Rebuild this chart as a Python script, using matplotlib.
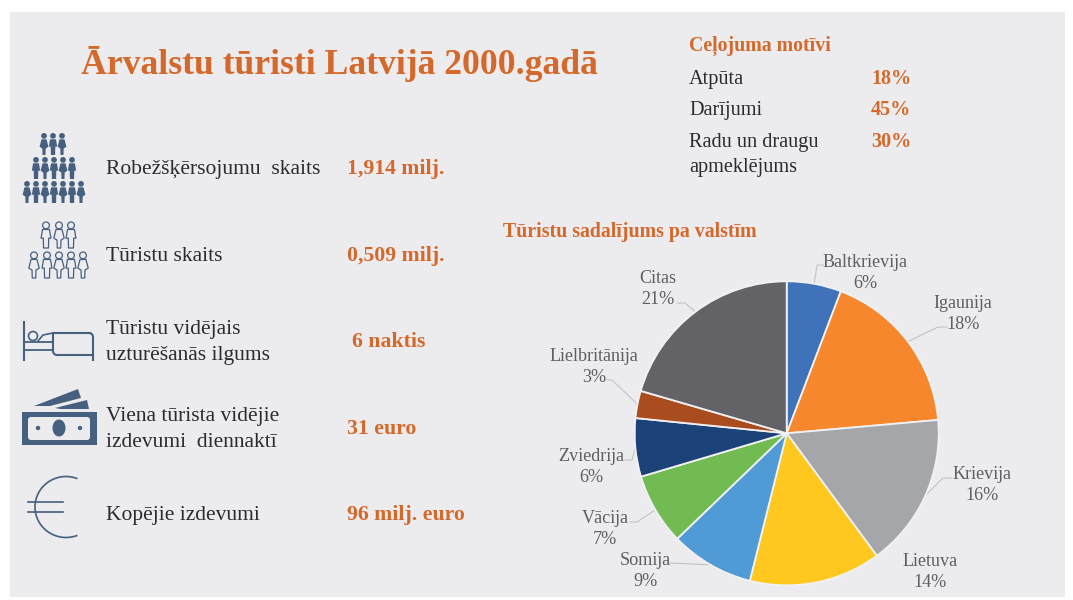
# turisti.py
# infographic: foreign tourists in Latvia, 2000

import numpy as np
import matplotlib
matplotlib.use('Agg')
import matplotlib.pyplot as plt
from matplotlib.patches import Circle, Ellipse, FancyBboxPatch, Polygon, Rectangle, Arc

# D A T A  ---------------------------------------------------------------------
countries = ['Baltkrievija', 'Igaunija', 'Krievija', 'Lietuva', 'Somija',
             'Vācija', 'Zviedrija', 'Lielbritānija', 'Citas']
share_labels = ['6%', '18%', '16%', '14%', '9%', '7%', '6%', '3%', '21%']
# slice sizes, the printed labels are rounded
shares = [5.8, 17.8, 16.3, 14.0, 8.9, 7.6, 6.2, 2.9, 20.5]
pie_colors = ['#3f72b8', '#f6872c', '#a5a6a9', '#fec81f', '#509bd5',
              '#72bb53', '#1b4279', '#a94c1e', '#636266']

stat_labels = ['Robežšķērsojumu  skaits', 'Tūristu skaits',
               'Tūristu vidējais\nuzturēšanās ilgums',
               'Viena tūrista vidējie\nizdevumi  diennaktī', 'Kopējie izdevumi']
stat_values = ['1,914 milj.', '0,509 milj.', '6 naktis', '31 euro', '96 milj. euro']

motive_labels = ['Atpūta', 'Darījumi', 'Radu un draugu\napmeklējums']
motive_values = ['18%', '45%', '30%']

# P A R A M E T E R S  ---------------------------------------------------------
W, H = 1073, 600
ORANGE = '#d4692b'
DARK = '#2b2b30'
GREY = '#5f5f62'
ICON = '#46607f'
BG = '#ecebee'
SERIF = 'Liberation Serif'
CX, CY, R = 786.7, 433.3, 152

stat_y = [167, 254, 340, 427, 513]
stat_x = [347, 347, 352, 347, 347]
motive_text_y = [77, 108, 152.5]
motive_pct_y = [77, 108, 140]

label_pos = [(865, 271), (963, 312), (982, 483), (930, 570), (645, 569),
             (605, 527), (591, 465), (594, 365), (658, 287)]
leader_pts = [((823, 265), (817, 265)), ((947, 327), (938, 327)), ((952, 478), (943, 478)),
              None, ((670, 563), (670, 563)), ((630, 522), (637, 522)),
              ((625, 460), (632, 460)), ((607, 380), (612, 380)), ((677, 303), (685, 303))]

fig = plt.figure(figsize=(W / 100, H / 100), dpi=100, facecolor='white')
ax = fig.add_axes([0, 0, 1, 1])
ax.set_xlim(0, W)
ax.set_ylim(H, 0)
ax.axis('off')
ax.add_patch(Rectangle((10, 12), 1055, 585, fc=BG, ec='none'))


# y is the middle of the block, each line gets its own baseline
def txt(x, y, s, size=15.5, color=DARK, weight='normal', ha='left', gap=26):
    lines = s.split('\n')
    y0 = y - gap * (len(lines) - 1) / 2
    for i, line in enumerate(lines):
        ax.text(x, y0 + i * gap + 0.33 * size * 100 / 72, line, fontsize=size, color=color,
                fontweight=weight, ha=ha, va='baseline', family=SERIF)


# person icon, top at y, height h
def person(x, y, h, filled=True, skirt=False):
    head = h * 0.13
    lw = 0 if filled else 0.9
    fc = ICON if filled else 'none'
    ax.add_patch(Circle((x, y + head), head, fc=fc, ec=ICON, lw=lw))
    w = h * 0.19
    top, mid, bot = y + 2.2 * head, y + h * 0.62, y + h
    if skirt:
        pts = [(x - w * 0.6, top), (x + w * 0.6, top), (x + w * 1.05, mid), (x + w * 0.4, mid + 2),
               (x + w * 0.35, bot), (x - w * 0.35, bot), (x - w * 0.4, mid + 2), (x - w * 1.05, mid)]
    else:
        pts = [(x - w * 0.7, top), (x + w * 0.7, top), (x + w, mid), (x + w * 0.55, mid),
               (x + w * 0.5, bot), (x - w * 0.5, bot), (x - w * 0.55, mid), (x - w, mid)]
    ax.add_patch(Polygon(pts, closed=True, fc=fc, ec=ICON, lw=lw, joinstyle='round'))


# icons
for i, x in enumerate([44, 53, 62]):
    person(x, 133, 22, True, i % 2 == 0)
for i, x in enumerate([36, 45, 54, 63, 72]):
    person(x, 157, 22, True, i % 2 == 1)
for i, x in enumerate([27, 36, 45, 54, 63, 72, 81]):
    person(x, 181, 22, True, i % 2 == 0)
for i, x in enumerate([46, 59, 71]):
    person(x, 222, 26, False, i == 1)
for i, x in enumerate([34, 47, 59, 71, 83]):
    person(x, 252, 26, False, i % 2 == 0)

# bed
ax.plot([24, 24], [322, 360], color=ICON, lw=1.5)
ax.add_patch(Circle((33, 336), 4.5, fc='none', ec=ICON, lw=1.2))
ax.plot([93, 93], [338, 360], color=ICON, lw=1.5)
ax.plot([53, 90], [333, 333], color=ICON, lw=1.5)
ax.add_patch(Arc((89, 337), 8, 8, theta1=270, theta2=360, color=ICON, lw=1.5))
ax.plot([53, 53], [333, 351], color=ICON, lw=1.5)
ax.add_patch(Arc((57, 351), 8, 8, theta1=90, theta2=180, color=ICON, lw=1.5))
ax.plot([57, 93], [355, 355], color=ICON, lw=1.5)
ax.plot([24, 53], [342, 342], color=ICON, lw=1.3)
ax.plot([24, 53], [350, 350], color=ICON, lw=1.3)
ax.plot([38, 43, 53], [341, 335, 333], color=ICON, lw=1.2)

# money
ax.add_patch(Rectangle((22, 412), 75, 33, fc=ICON, ec='none'))
ax.add_patch(FancyBboxPatch((28, 417), 62, 23, boxstyle='round,pad=0,rounding_size=3',
                            fc=BG, ec='none'))
ax.add_patch(Ellipse((59, 428), 13, 17, fc=ICON, ec='none'))
ax.add_patch(Circle((38, 428), 2.2, fc=ICON, ec='none'))
ax.add_patch(Circle((80, 428), 2.2, fc=ICON, ec='none'))
ax.add_patch(Polygon([(34, 406), (78, 389), (81, 398), (50, 406)], fc=ICON, ec='none'))
ax.add_patch(Polygon([(55, 408), (87, 400), (89, 409), (60, 409)], fc=ICON, ec='none'))

# euro
ax.add_patch(Arc((66, 507), 62, 61, theta1=68, theta2=292, color=ICON, lw=1.2))
ax.plot([28, 63], [502, 502], color=ICON, lw=1.2)
ax.plot([28, 63], [512, 512], color=ICON, lw=1.2)

# text
txt(81, 62, 'Ārvalstu tūristi Latvijā 2000.gadā', size=25.7, color=ORANGE, weight='bold')
for y, x, lab, val in zip(stat_y, stat_x, stat_labels, stat_values):
    txt(106, y, lab)
    txt(x, y, val, size=15.7, color=ORANGE, weight='bold')

txt(689, 44, 'Ceļojuma motīvi', size=14.3, color=ORANGE, weight='bold')
for ty, py, lab, val in zip(motive_text_y, motive_pct_y, motive_labels, motive_values):
    txt(689, ty, lab, size=14.6, gap=25)
    txt(871, py, val, size=14.5, color=ORANGE, weight='bold')
txt(503, 230, 'Tūristu sadalījums pa valstīm', size=14.35, color=ORANGE, weight='bold')

# pie
pie_ax = fig.add_axes([(CX - R) / W, 1 - (CY + R) / H, 2 * R / W, 2 * R / H])
wedges, _ = pie_ax.pie(shares, colors=pie_colors, startangle=90, counterclock=False, radius=1,
                       normalize=True, wedgeprops={'edgecolor': '#f2f1f3', 'linewidth': 1.3})
pie_ax.set_xlim(-1, 1)
pie_ax.set_ylim(-1, 1)

total = sum(shares)
cum = np.cumsum(shares) - np.array(shares) / 2
for name, lab, c, pos, lead in zip(countries, share_labels, cum, label_pos, leader_pts):
    txt(pos[0], pos[1], f'{name}\n{lab}', size=13.1, color=GREY, ha='center', gap=21)
    if lead is not None:
        a = 2 * np.pi * c / total
        end = (CX + R * np.sin(a), CY - R * np.cos(a))
        ax.plot([lead[0][0], lead[1][0], end[0]], [lead[0][1], lead[1][1], end[1]],
                color='#c4c4c6', lw=0.8)

fig.savefig('out.png', dpi=100, facecolor='white')
